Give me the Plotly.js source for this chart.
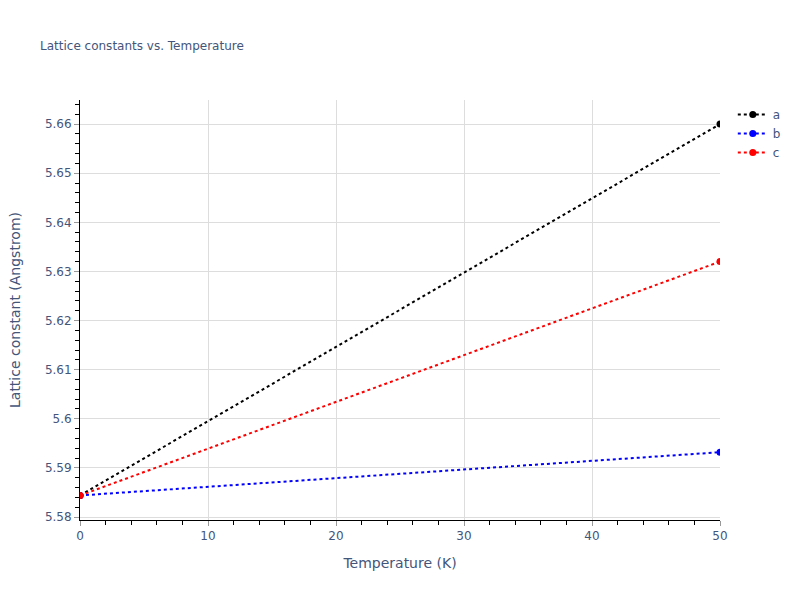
<!DOCTYPE html>
<html>
<head>
<meta charset="utf-8">
<script src="https://cdn.plot.ly/plotly-3.0.1.min.js"></script>
<style>html,body{margin:0;padding:0;background:#fff;}#chart{width:800px;height:600px;}</style>
</head>
<body>
<div id="chart"></div>
<script>
const temperature = [0, 50];
const latticeA = [5.5844, 5.6600];
const latticeB = [5.5844, 5.5932];
const latticeC = [5.5844, 5.6320];
const seriesNames = ['a', 'b', 'c'];
const seriesColors = ['black', 'blue', 'red'];

const series = [latticeA, latticeB, latticeC];
const traces = series.map((vals, i) => ({
  x: temperature,
  y: vals,
  name: seriesNames[i],
  type: 'scatter',
  mode: 'lines+markers',
  line: {color: seriesColors[i], dash: 'dot', width: 2},
  marker: {color: seriesColors[i], size: 7}
}));

const textColor = '#44557a';

const axisCommon = {
  showline: true,
  linecolor: 'black',
  linewidth: 1,
  ticks: 'outside',
  tickcolor: '#999',
  ticklen: 5,
  showgrid: true,
  gridcolor: '#ddd',
  zeroline: false,
  tickfont: {color: textColor, size: 12}
};

const layout = {
  width: 800,
  height: 600,
  margin: {l: 80, r: 80, t: 100, b: 80},
  paper_bgcolor: 'white',
  plot_bgcolor: 'white',
  font: {family: '"DejaVu Sans", Verdana, sans-serif', color: textColor, size: 12},
  title: {text: 'Lattice constants vs. Temperature', x: 0.05, xanchor: 'left', y: 0.93, font: {size: 12, color: textColor}},
  xaxis: Object.assign({}, axisCommon, {
    title: {text: 'Temperature (K)', font: {size: 14, color: textColor}, standoff: 15},
    range: [0, 50],
    dtick: 10,
    minor: {ticks: 'outside', ticklen: 4, tickcolor: 'black', dtick: 2, showgrid: false}
  }),
  yaxis: Object.assign({}, axisCommon, {
    title: {text: 'Lattice constant (Angstrom)', font: {size: 14, color: textColor}, standoff: 20},
    range: [5.5794, 5.6649],
    dtick: 0.01,
    minor: {ticks: 'outside', ticklen: 4, tickcolor: 'black', dtick: 0.002, showgrid: false}
  }),
  legend: {font: {size: 12, color: textColor}},
  showlegend: true
};

Plotly.newPlot('chart', traces, layout, {displayModeBar: false});
</script>
</body>
</html>
